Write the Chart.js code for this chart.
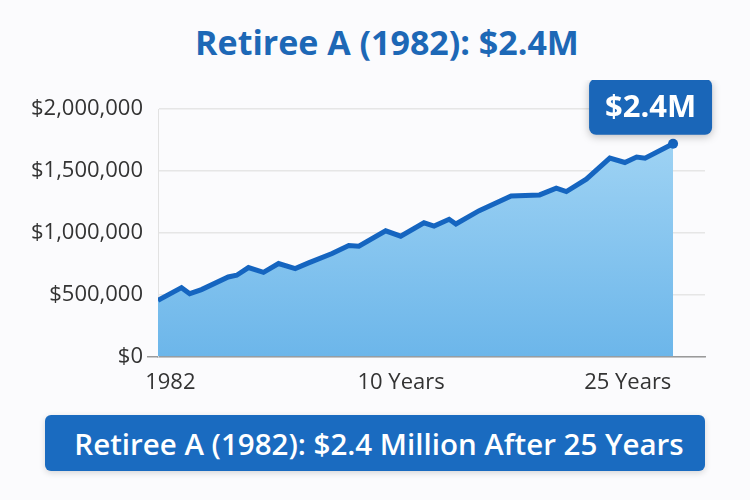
<!DOCTYPE html>
<html>
<head>
<meta charset="utf-8">
<script src="https://cdn.jsdelivr.net/npm/chart.js@4/dist/chart.umd.min.js"></script>
<style>
  html, body { margin: 0; padding: 0; }
  body { width: 750px; height: 500px; background: #fbfbfd; position: relative; overflow: hidden;
         font-family: "Open Sans", "Noto Sans", sans-serif; }
  #title { position: absolute; left: 12px; top: 21px; width: 750px; text-align: center;
           font-size: 34px; font-weight: 700; color: #1d68b6; line-height: 42px; }
  #wrap { position: absolute; left: 0; top: 80px; width: 750px; height: 327px; }
  #banner { position: absolute; left: 45px; top: 415px; width: 660px; height: 56px;
            background: #1a6bc0; border-radius: 6px; color: #fff; font-size: 29.5px; font-weight: 600;
            display: flex; align-items: center; justify-content: center; box-sizing: border-box;
            padding-left: 8px; box-shadow: 0 2px 6px rgba(0,0,0,0.15); }
</style>
</head>
<body>
<div id="title">Retiree A (1982): $2.4M</div>
<div id="wrap"><canvas id="chart"></canvas></div>
<div id="banner">Retiree A (1982): $2.4 Million After 25 Years</div>
<script>
// years since 1982 and portfolio value (dollars)
const years = [0, 1.14, 1.54, 2.11, 3.41, 3.82, 4.39, 5.12, 5.85, 6.66, 7.31, 8.45, 9.26, 9.75,
  11.05, 11.78, 12.91, 13.40, 14.13, 14.46, 15.59, 17.14, 18.52, 19.33, 19.82, 20.79,
  21.93, 22.66, 23.23, 23.64, 25];
const values = [454000, 557000, 508000, 541000, 643000, 657000, 719000, 681000, 752000, 711000,
  757000, 833000, 898000, 892000, 1016000, 973000, 1081000, 1054000, 1109000, 1071000,
  1179000, 1298000, 1306000, 1360000, 1333000, 1433000, 1603000, 1568000, 1612000, 1603000, 1719000];
const xTickPos = [0.6, 11.8, 22.8];
const xTickLabels = ['1982', '10 Years', '25 Years'];
const yTicks = [0, 500000, 1000000, 1500000, 2000000];
const badgeText = '$2.4M';

const points = years.map((x, i) => ({x: x, y: values[i]}));

const badgePlugin = {
  id: 'badge',
  afterDatasetsDraw(chart) {
    const meta = chart.getDatasetMeta(0);
    const last = meta.data[meta.data.length - 1];
    const c = chart.ctx;
    const px = last.x, py = last.y;
    const bx = px - 84, by = py - 65, bw = 123, bh = 56;
    c.save();
    c.shadowColor = 'rgba(0,0,0,0.25)';
    c.shadowBlur = 8;
    c.shadowOffsetY = 2;
    c.fillStyle = '#1a66b8';
    c.beginPath();
    c.roundRect(bx, by, bw, bh, 7);
    c.fill();
    c.shadowColor = 'transparent';
    c.fillStyle = '#ffffff';
    c.font = '700 31px "Open Sans", "Noto Sans", sans-serif';
    c.textAlign = 'center';
    c.textBaseline = 'middle';
    c.fillText(badgeText, bx + bw / 2, by + bh / 2 + 1);
    c.restore();
  }
};

const ctx = document.getElementById('chart').getContext('2d');
const chart = new Chart(ctx, {
  type: 'line',
  data: {
    datasets: [{
      data: points,
      borderColor: '#1565c0',
      borderWidth: 5,
      tension: 0,
      fill: 'origin',
      backgroundColor(context) {
        const area = context.chart.chartArea;
        if (!area) return '#7fc2ee';
        const g = context.chart.ctx.createLinearGradient(0, area.top, 0, area.bottom);
        g.addColorStop(0, '#a6d7f5');
        g.addColorStop(1, '#6cb6ea');
        return g;
      },
      pointRadius: ctx => ctx.dataIndex === values.length - 1 ? 5 : 0,
      pointBackgroundColor: '#1565c0',
      pointBorderWidth: 0
    }]
  },
  options: {
    responsive: true,
    maintainAspectRatio: false,
    animation: false,
    layout: { padding: { left: 0, right: 45, top: 29, bottom: 6 } },
    plugins: { legend: { display: false }, tooltip: { enabled: false } },
    scales: {
      x: {
        type: 'linear',
        min: 0,
        max: 26.55,
        grid: { display: false },
        border: { display: true, color: '#9a9a9a', width: 1.5 },
        afterBuildTicks(scale) {
          scale.ticks = xTickPos.map(v => ({value: v}));
        },
        ticks: {
          autoSkip: false,
          maxRotation: 0,
          padding: 5,
          color: '#333333',
          font: { family: '"Open Sans", "Noto Sans", sans-serif', size: 22 },
          callback: (value, index) => xTickLabels[index]
        }
      },
      y: {
        min: 0,
        max: 2000000,
        afterFit(scale) { scale.width = 158; },
        afterBuildTicks(scale) {
          scale.ticks = yTicks.map(v => ({value: v}));
        },
        grid: {
          color: '#e6e6e6',
          lineWidth: 1.5,
          tickLength: 11,
          tickColor: c => c.tick && c.tick.value === 0 ? '#9a9a9a' : 'rgba(0,0,0,0)'
        },
        border: { display: true, color: '#e2e2e2' },
        ticks: {
          padding: 4,
          color: '#333333',
          font: { family: '"Open Sans", "Noto Sans", sans-serif', size: 22 },
          callback: v => '$' + v.toLocaleString('en-US')
        }
      }
    }
  },
  plugins: [badgePlugin]
});
</script>
</body>
</html>
